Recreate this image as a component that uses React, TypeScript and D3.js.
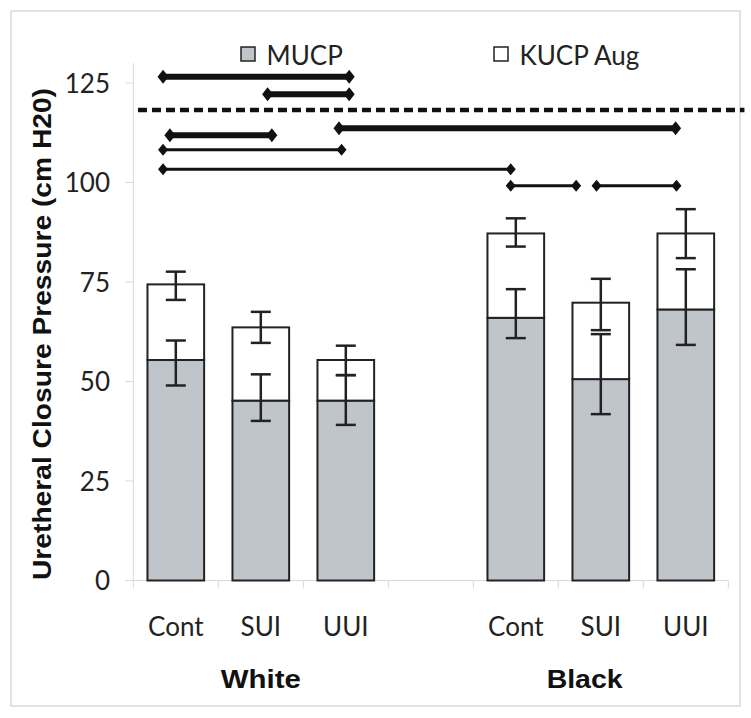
import React from "react";
import * as d3 from "d3";

// ---- data ----
const xLabels = ["Cont", "SUI", "UUI", "", "Cont", "SUI", "UUI"];
const groupLabels = ["White", "Black"];
const groupCenters = [1.5, 5.31]; // in slot units
const mucp = [55.4, 45.2, 45.2, null, 66.0, 50.6, 68.1];
const kucpAug = [19.0, 18.4, 10.2, null, 21.2, 19.2, 19.1];
const mucpErrLo = [49.0, 40.1, 39.1, null, 60.9, 41.8, 59.2];
const mucpErrHi = [60.3, 51.8, 51.6, null, 73.2, 61.9, 78.2];
const totalErrLo = [70.5, 59.7, 51.6, null, 83.9, 62.9, 81.0];
const totalErrHi = [77.6, 67.5, 59.0, null, 91.0, 75.8, 93.3];
const yTicks = [0, 25, 50, 75, 100, 125];
const seriesNames = ["MUCP", "KUCP Aug"];
// significance bars: [from slot, to slot, value, thick?]
const sigFrom = [0.35, 1.58, 2.42, 0.43, 0.35, 0.35, 4.44, 5.45];
const sigTo = [2.54, 2.54, 6.38, 1.63, 2.45, 4.44, 5.21, 6.39];
const sigValue = [126.6, 122.2, 113.6, 111.9, 108.2, 103.3, 99.2, 99.2];
const sigThick = [true, true, true, true, false, false, false, false];
const refLineValue = 118.2;
const refLineFrom = 0.055;
const refLineTo = 7.19;

const W = 751;
const H = 718;

export default function App() {
  const left = 133.3;
  const right = 728.3;
  const x = d3
    .scaleBand<number>()
    .domain(d3.range(xLabels.length))
    .range([left, right])
    .paddingInner(1 / 3)
    .paddingOuter(1 / 6);
  const xs = d3.scaleLinear().domain([0, xLabels.length]).range([left, right]);
  const y = d3.scaleLinear().domain([0, 125]).range([580.5, 83]);

  const rows = xLabels.map((_, i) => ({ i, mucp: mucp[i] ?? 0, aug: kucpAug[i] ?? 0 }));
  const stacked = d3.stack<any>().keys(["mucp", "aug"])(rows);

  const grey = "#c0c5cc";
  const ink = "#222";
  const axisCol = "#d9d9d9";
  const tickFont = "Lato, 'Open Sans', sans-serif";
  const boldFont = "'Liberation Sans', Arial, sans-serif";

  const diamond = (w: number, h: number) => `M0,${-h / 2}L${w / 2},0L0,${h / 2}L${-w / 2},0Z`;

  const boundaries = d3.range(xLabels.length + 1).map((k) => xs(k));
  const groupWidths = [80, 76];

  return (
    <svg
      width={W}
      height={H}
      style={{ position: "absolute", left: 0, top: 0, background: "#fff" }}
    >
      <rect x={0} y={0} width={W} height={H} fill="#fff" />
      <rect x={11} y={11} width={729} height={695} fill="none" stroke={axisCol} strokeWidth={1.5} />

      {/* axes */}
      <line x1={left} x2={left} y1={y(130)} y2={y(0)} stroke={axisCol} strokeWidth={1} />
      {yTicks.map((t) => (
        <g key={t}>
          <line x1={left - 8} x2={left} y1={y(t)} y2={y(t)} stroke={axisCol} />
          <text
            x={110}
            y={y(t)}
            dy="0.37em"
            textAnchor="end"
            fontFamily={tickFont}
            fontSize={26}
            fill="#222"
          >
            {t}
          </text>
        </g>
      ))}
      <line x1={left} x2={right} y1={y(0)} y2={y(0)} stroke={axisCol} strokeWidth={1} />
      {boundaries.map((b, k) => (
        <line key={k} x1={b} x2={b} y1={y(0)} y2={y(0) + 8} stroke={axisCol} />
      ))}
      {xLabels.map((l, i) => (
        <text
          key={i}
          x={(x(i) as number) + x.bandwidth() / 2}
          y={636}
          textAnchor="middle"
          fontFamily={tickFont}
          fontSize={26}
          fill="#222"
        >
          {l}
        </text>
      ))}
      {groupLabels.map((g, k) => (
        <text
          key={g}
          x={xs(groupCenters[k])}
          y={688}
          textAnchor="middle"
          fontFamily={boldFont}
          fontWeight="bold"
          fontSize={26}
          fill="#111"
          textLength={groupWidths[k]}
          lengthAdjust="spacingAndGlyphs"
        >
          {g}
        </text>
      ))}
      <text
        transform={`translate(51,334) rotate(-90)`}
        textAnchor="middle"
        fontFamily={boldFont}
        fontWeight="bold"
        fontSize={26}
        fill="#111"
        textLength={492}
        lengthAdjust="spacingAndGlyphs"
      >
        Uretheral Closure Pressure (cm H20)
      </text>

      {/* bars */}
      {stacked.map((s, si) =>
        s.map((d, i) =>
          mucp[i] == null ? null : (
            <rect
              key={`${si}-${i}`}
              x={x(i)}
              width={x.bandwidth()}
              y={y(d[1])}
              height={y(d[0]) - y(d[1])}
              fill={si === 0 ? grey : "#fff"}
              stroke={ink}
              strokeWidth={2}
            />
          )
        )
      )}

      {/* error bars */}
      {xLabels.map((_, i) => {
        if (mucp[i] == null) return null;
        const cx = (x(i) as number) + x.bandwidth() / 2;
        const bars = [
          [mucpErrLo[i] as number, mucpErrHi[i] as number],
          [totalErrLo[i] as number, totalErrHi[i] as number],
        ];
        return (
          <g key={i} stroke={ink} strokeWidth={2.5}>
            {bars.map(([lo, hi], k) => (
              <g key={k}>
                <line x1={cx} x2={cx} y1={y(lo)} y2={y(hi)} />
                <line x1={cx - 10} x2={cx + 10} y1={y(lo)} y2={y(lo)} />
                <line x1={cx - 10} x2={cx + 10} y1={y(hi)} y2={y(hi)} />
              </g>
            ))}
          </g>
        );
      })}

      {/* reference dashed line */}
      <line
        x1={xs(refLineFrom)}
        x2={xs(refLineTo)}
        y1={y(refLineValue)}
        y2={y(refLineValue)}
        stroke="#111"
        strokeWidth={4.5}
        strokeDasharray="9 5"
      />

      {/* significance bars */}
      {sigValue.map((v, k) => {
        const thick = sigThick[k];
        const yy = y(v);
        const x1 = xs(sigFrom[k]);
        const x2 = xs(sigTo[k]);
        const dw = thick ? 11 : 10;
        const dh = thick ? 14 : 12;
        return (
          <g key={k} fill="#111">
            <line x1={x1} x2={x2} y1={yy} y2={yy} stroke="#111" strokeWidth={thick ? 6 : 3} />
            <path d={diamond(dw, dh)} transform={`translate(${x1},${yy})`} />
            <path d={diamond(dw, dh)} transform={`translate(${x2},${yy})`} />
          </g>
        );
      })}

      {/* legend */}
      {seriesNames.map((n, k) => {
        const lx = k === 0 ? 241 : 494;
        return (
          <g key={n}>
            <rect x={lx} y={47} width={14} height={14} fill={k === 0 ? grey : "#fff"} stroke={ink} strokeWidth={1.5} />
            <text x={lx + 25.5} y={65} fontFamily={tickFont} fontSize={26} fill="#222">
              {n}
            </text>
          </g>
        );
      })}
    </svg>
  );
}
